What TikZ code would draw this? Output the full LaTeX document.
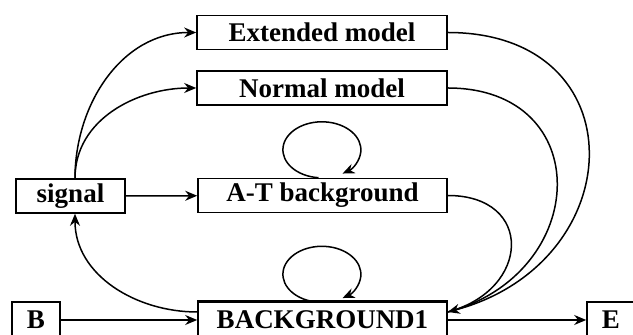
\documentclass[tikz,border=0pt]{standalone}
\usepackage{fontspec}
\setmainfont{Liberation Serif}
\usetikzlibrary{arrows.meta}
\tikzset{
  box/.style={draw, line width=0.8pt, inner sep=0pt, minimum height=17pt,
    font=\bfseries\fontsize{13.5}{16}\selectfont},
}
\begin{document}
\begin{tikzpicture}[x=0.5pt, y=-0.5pt, line width=0.75pt, >={Stealth[length=6pt,width=5pt]}]
        \useasboundingbox (0,0) rectangle (633,335) ;
        \node[box, minimum width=125pt] (ext) at (322,32.5) {Extended model} ;
        \node[box, minimum width=125pt] (norm) at (322,88) {Normal model} ;
        \node[box, minimum width=124.5pt] (at) at (322.5,195.5) {A-T background} ;
        \node[box, minimum width=54.5pt] (sig) at (70.5,196) {signal} ;
        \node[box, minimum width=24pt, minimum height=18pt] (b) at (36,320) {B} ;
        \node[box, minimum width=124.5pt, minimum height=18pt] (bg) at (322.5,320) {BACKGROUND1} ;
        \node[box, minimum width=24pt, minimum height=18pt] (e) at (611,320) {E} ;
        \draw[line width=1.5pt] (bg.north west) -- (bg.north east) ;

        \draw[->] (sig) -- (at) ;
        \draw[->] (b) -- (bg) ;
        \draw[->] (bg) -- (e) ;
        \draw[->] ([xshift=2.25pt]sig.north) to[out=90, in=180] (ext.west) ;
        \draw[->] ([xshift=2.25pt]sig.north) to[out=90, in=180] (norm.west) ;
        \draw[->] ([yshift=4pt]bg.west) to[out=180, in=-90] ([xshift=2.25pt]sig.south) ;

        % into BACKGROUND1 from the right
        \draw[->] (ext.east) to[out=0, in=15, looseness=1.75] ([yshift=4pt]bg.east) ;
        \draw (norm.east) to[out=0, in=15, looseness=1.7] ([yshift=4pt]bg.east) ;
        \draw (at.east) to[out=0, in=15, looseness=1.9] ([yshift=4pt]bg.east) ;

        % self loops
        \draw[->] ([xshift=-2pt]at.north) arc[start angle=265, end angle=-58, x radius=19.5pt, y radius=14pt] ;
        \draw[->] ([xshift=-2pt,yshift=-0.5pt]bg.north) arc[start angle=265, end angle=-58, x radius=19.5pt, y radius=14pt] ;
\end{tikzpicture}
\end{document}
